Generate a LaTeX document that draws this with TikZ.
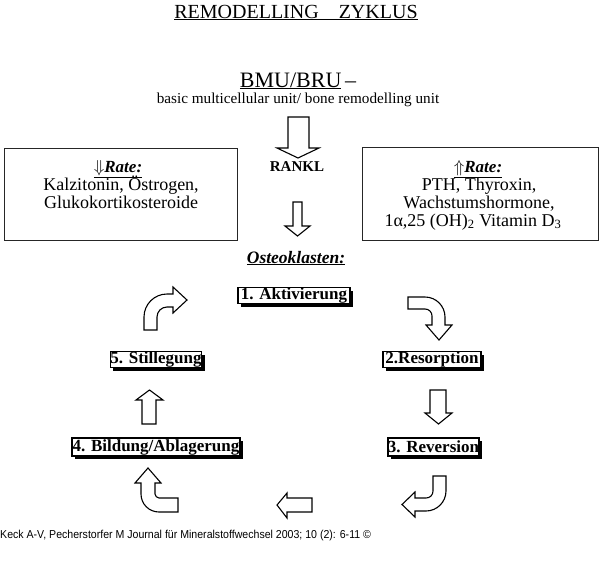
\documentclass[tikz,border=0pt]{standalone}
\usepackage{fontspec}
\setmainfont{Liberation Serif}
\newfontfamily\footfont[FakeStretch=0.92]{Liberation Sans}
\usetikzlibrary{shadows}
\begin{document}
\begin{tikzpicture}[x=1pt,y=-1pt,
  txt/.style={inner sep=0pt, anchor=base},
  ratebox/.style={draw=black!85, line width=0.9pt},
  stepbox/.style={draw, line width=1.3pt, fill=white, inner sep=0pt,
     font=\fontsize{17}{19}\selectfont\bfseries,
     drop shadow={shadow xshift=3pt,shadow yshift=-3pt,fill=black,opacity=1}},
  blockarrow/.style={draw, fill=white, line width=1.1pt, line join=miter}]
\useasboundingbox[fill=white] (0,0) rectangle (600,584);

% Title
\node[txt] (title) at (296,18) {\fontsize{20}{22}\selectfont\underline{REMODELLING\quad ZYKLUS}};
\node[txt] (bmu) at (298,87) {\fontsize{22}{24}\selectfont\underline{BMU/BRU}\,–};
\node[txt] (bmusub) at (298,103) {\fontsize{15.2}{17}\selectfont basic multicellular unit/ bone remodelling unit};

% big arrow + RANKL
\draw[blockarrow] (288,117) -- (309,117) -- (309,148) -- (319,148) -- (298,158) -- (277,148) -- (288,148) -- cycle;
\node[txt] (rankl) at (297,171) {\fontsize{15}{17}\selectfont\bfseries RANKL};
\draw[blockarrow] (293,202) -- (302,202) -- (302,226) -- (310,226) -- (297.5,236) -- (285,226) -- (293,226) -- cycle;

% rate boxes
\node[ratebox, minimum width=233pt, minimum height=92pt] (leftbox) at (120.5,194) {};
\node[ratebox, minimum width=236pt, minimum height=93pt] (rightbox) at (480,193.5) {};
\node[txt] (lrate) at (118,172) {\fontsize{17}{19}\selectfont\bfseries\itshape\underline{$\Downarrow$Rate:}};
\node[txt] (l1) at (121,190) {\fontsize{18}{20}\selectfont Kalzitonin, Östrogen,};
\node[txt] (l2) at (121,208) {\fontsize{18}{20}\selectfont Glukokortikosteroide};
\node[txt] (rrate) at (478,172) {\fontsize{17}{19}\selectfont\bfseries\itshape\underline{$\Uparrow$Rate:}};
\node[txt] (r1) at (479,190) {\fontsize{18}{20}\selectfont PTH, Thyroxin,};
\node[txt] (r2) at (479,208) {\fontsize{18}{20}\selectfont Wachstumshormone,};
\node[txt] (r3) at (473,226) {\fontsize{18}{20}\selectfont 1α,25 (OH)\textsubscript{2} Vitamin D\textsubscript{3}};

% Osteoklasten
\node[txt] (osteo) at (296,263) {\fontsize{17.5}{19}\selectfont\bfseries\itshape\underline{Osteoklasten:}};

% step boxes
\node[stepbox, minimum width=112pt, minimum height=16pt] (s1) at (294,295.5) {1. Aktivierung};
\node[stepbox, minimum width=88pt, minimum height=16pt] (s5) at (156,359.5) {5. Stillegung};
\node[stepbox, minimum width=98pt, minimum height=16pt] (s2) at (432,359.5) {2.Resorption};
\node[stepbox, minimum width=168pt, minimum height=18pt] (s4) at (156,447) {4. Bildung/Ablagerung};
\node[stepbox, minimum width=91pt, minimum height=18pt] (s3) at (433.5,447) {3. Reversion};

% cycle arrows
\draw[blockarrow] (144,330) -- (144,317) .. controls (144,304.3) and (154.3,294) .. (167,294) -- (173,294) -- (173,287) -- (187,300) -- (173,313) -- (173,307) -- (167,307) .. controls (161.5,307) and (157,311.5) .. (157,317) -- (157,330) -- cycle;
\draw[blockarrow] (408,297) -- (425,297) .. controls (436,297) and (445,306) .. (445,317) -- (445,325) -- (452,325) -- (439,340) -- (426,325) -- (432,325) -- (432,316) .. controls (432,312) and (429,309) .. (425,309) -- (408,309) -- cycle;
\draw[blockarrow] (430,390) -- (446,390) -- (446,413) -- (452,413) -- (438.5,424) -- (425,413) -- (430,413) -- cycle;
\draw[blockarrow] (433,476) -- (446,476) -- (446,491) .. controls (446,502) and (437,511) .. (426,511) -- (415,511) -- (415,517) -- (402,504.5) -- (415,492) -- (415,498) -- (426,498) .. controls (430,498) and (433,495) .. (433,491) -- cycle;
\draw[blockarrow] (312,498) -- (287,498) -- (287,493) -- (277,505) -- (287,518) -- (287,512) -- (312,512) -- cycle;
\draw[blockarrow] (178,498) -- (159,498) .. controls (157,498) and (155,496) .. (155,494) -- (155,483) -- (161,483) -- (148,468) -- (135,483) -- (141,483) -- (141,494) .. controls (141,504) and (149,512) .. (159,512) -- (178,512) -- cycle;
\draw[blockarrow] (142,424) -- (142,400) -- (136,400) -- (149.5,390) -- (163,400) -- (156,400) -- (156,424) -- cycle;

% footer
\node[txt, anchor=base west] (foot) at (0,538) {\footfont\fontsize{11.5}{13}\selectfont Keck A-V, Pecherstorfer M Journal für Mineralstoffwechsel 2003; 10 (2): 6-11 ©};
\end{tikzpicture}
\end{document}
